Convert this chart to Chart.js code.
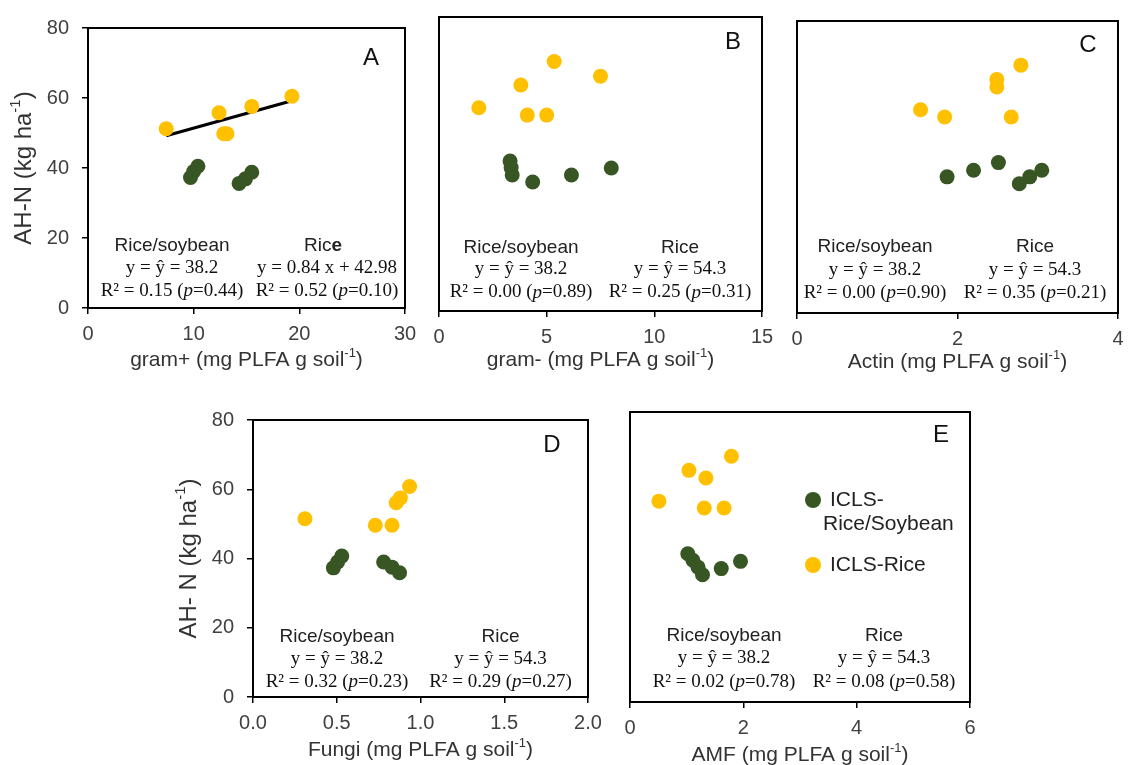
<!DOCTYPE html>
<html>
<head>
<meta charset="utf-8">
<script src="https://cdn.jsdelivr.net/npm/chart.js"></script>
<style>
  body { margin: 0; background: #fff; overflow: hidden; }
  #wrap { position: relative; width: 1128px; height: 765px; }
  #wrap canvas { position: absolute; }
</style>
</head>
<body>
<div id="wrap"></div>
<script>
// shared y axis
const yTicks = [0, 20, 40, 60, 80];

// A: gram+
const aTicks = [0, 10, 20, 30];
const aSoyX = [9.7, 10.0, 10.4, 14.3, 14.9, 15.5];
const aSoyY = [37.3, 39.0, 40.5, 35.6, 36.9, 38.8];
const aRiceX = [7.4, 12.4, 12.85, 13.15, 15.5, 19.3];
const aRiceY = [51.2, 55.8, 49.8, 49.8, 57.6, 60.5];
const aFitX = [7.4, 19.3];
const aFitY = [49.2, 59.2];
const aSoyStats = ["y = ŷ = 38.2", "0.15", "0.44"];
const aRiceStats = ["y = 0.84 x + 42.98", "0.52", "0.10"];

// B: gram-
const bTicks = [0, 5, 10, 15];
const bSoyX = [3.3, 3.35, 3.4, 4.35, 6.15, 8.0];
const bSoyY = [40.8, 39.0, 37.0, 35.1, 37.0, 38.9];
const bRiceX = [1.85, 3.8, 5.35, 7.5, 4.1, 5.0];
const bRiceY = [55.3, 61.5, 67.9, 63.9, 53.3, 53.3];
const bSoyStats = ["y = ŷ = 38.2", "0.00", "0.89"];
const bRiceStats = ["y = ŷ = 54.3", "0.25", "0.31"];

// C: Actin
const cTicks = [0, 2, 4];
const cSoyX = [1.87, 2.2, 2.51, 2.77, 2.9, 3.05];
const cSoyY = [37.3, 39.1, 41.2, 35.4, 37.3, 39.1];
const cRiceX = [1.54, 1.84, 2.49, 2.49, 2.79, 2.67];
const cRiceY = [55.7, 53.7, 64.0, 61.9, 67.9, 53.7];
const cSoyStats = ["y = ŷ = 38.2", "0.00", "0.90"];
const cRiceStats = ["y = ŷ = 54.3", "0.35", "0.21"];

// D: Fungi
const dTicks = [0, 0.5, 1.0, 1.5, 2.0];
const dSoyX = [0.48, 0.505, 0.53, 0.78, 0.83, 0.875];
const dSoyY = [37.3, 39.0, 40.7, 39.0, 37.5, 35.9];
const dRiceX = [0.31, 0.73, 0.83, 0.855, 0.88, 0.935];
const dRiceY = [51.5, 49.6, 49.6, 56.1, 57.5, 60.8];
const dSoyStats = ["y = ŷ = 38.2", "0.32", "0.23"];
const dRiceStats = ["y = ŷ = 54.3", "0.29", "0.27"];

// E: AMF
const eTicks = [0, 2, 4, 6];
const eSoyX = [1.02, 1.11, 1.2, 1.28, 1.61, 1.95];
const eSoyY = [40.9, 39.1, 37.2, 35.1, 36.8, 38.8];
const eRiceX = [0.51, 1.04, 1.34, 1.79, 1.31, 1.66];
const eRiceY = [55.4, 63.9, 61.8, 67.8, 53.5, 53.5];
const eSoyStats = ["y = ŷ = 38.2", "0.02", "0.78"];
const eRiceStats = ["y = ŷ = 54.3", "0.08", "0.58"];

const GREEN = "#375623";
const YELLOW = "#FFC000";
const SANS = "'Liberation Sans', Arial, sans-serif";
const SERIF = "'Liberation Serif', 'Times New Roman', serif";

// text with "|sup|" parts
function supSegs(str, size, color) {
  return str.split("|").map((t, i) => ({
    t: t,
    font: (i % 2 ? Math.round(size * 0.62) : size) + "px " + SANS,
    dy: i % 2 ? -size * 0.33 : 0,
    color: color,
  }));
}

function statSegs(stats) {
  const f = "19px " + SERIF;
  return [
    [{ t: stats[0], font: f }],
    [
      { t: "R² = " + stats[1] + " (", font: f },
      { t: "p", font: "italic " + f },
      { t: "=" + stats[2] + ")", font: f },
    ],
  ];
}

function drawSegs(ctx, segs, x, y, align) {
  let total = 0;
  segs.forEach((s) => {
    ctx.font = s.font;
    s.w = ctx.measureText(s.t).width;
    total += s.w;
  });
  let cx = align === "left" ? x : x - total / 2;
  ctx.textAlign = "left";
  ctx.textBaseline = "middle";
  segs.forEach((s) => {
    ctx.font = s.font;
    ctx.fillStyle = s.color || "#111";
    ctx.fillText(s.t, cx, y + (s.dy || 0));
    cx += s.w;
  });
}

const decor = {
  id: "decor",
  afterDraw(chart) {
    const p = chart.options.plugins.decor;
    const ctx = chart.ctx;
    const a = chart.chartArea;
    ctx.save();
    ctx.strokeStyle = "#000";
    ctx.lineWidth = 2;
    ctx.strokeRect(a.left, a.top, a.right - a.left, a.bottom - a.top);

    // panel letter
    ctx.font = "24px " + SANS;
    ctx.fillStyle = "#111";
    ctx.textAlign = "center";
    ctx.textBaseline = "middle";
    ctx.fillText(p.letter, a.right - p.letterPos[0], a.top + p.letterPos[1]);

    // stats notes
    const sansF = "19px " + SANS;
    const lx = a.left + p.cols[0];
    const rx = a.left + p.cols[1];
    const ys = p.rows.map((d) => a.bottom - d);
    drawSegs(ctx, [{ t: "Rice/soybean", font: sansF, color: "#222" }], lx, ys[0]);
    drawSegs(ctx, p.riceHead.map((s) => Object.assign({ color: "#222" }, s)), rx, ys[0]);
    const sl = statSegs(p.soyStats);
    const rl = statSegs(p.riceStats);
    drawSegs(ctx, sl[0], lx, ys[1]);
    drawSegs(ctx, sl[1], lx, ys[2]);
    drawSegs(ctx, rl[0], rx + p.eqShift, ys[1]);
    drawSegs(ctx, rl[1], rx + p.eqShift, ys[2]);

    // x title
    drawSegs(ctx, supSegs(p.xTitle, 21, "#333"), (a.left + a.right) / 2, a.bottom + p.xTitleY);

    // y title
    if (p.yTitle) {
      ctx.save();
      ctx.translate(a.left - 64, (a.top + a.bottom) / 2);
      ctx.rotate(-Math.PI / 2);
      drawSegs(ctx, supSegs(p.yTitle, 24, "#333"), 0, 0);
      ctx.restore();
    }

    // legend (panel E)
    if (p.legend) {
      const ds = chart.data.datasets;
      const lf = "21px " + SANS;
      ctx.fillStyle = ds[0].backgroundColor;
      ctx.beginPath();
      ctx.arc(a.left + 183, a.top + 88, 8, 0, Math.PI * 2);
      ctx.fill();
      ctx.fillStyle = ds[1].backgroundColor;
      ctx.beginPath();
      ctx.arc(a.left + 183, a.top + 153, 8, 0, Math.PI * 2);
      ctx.fill();
      drawSegs(ctx, [{ t: "ICLS-", font: lf, color: "#222" }], a.left + 200, a.top + 88, "left");
      drawSegs(ctx, [{ t: "Rice/Soybean", font: lf, color: "#222" }], a.left + 193, a.top + 112, "left");
      drawSegs(ctx, [{ t: "ICLS-Rice", font: lf, color: "#222" }], a.left + 200, a.top + 153, "left");
    }
    ctx.restore();
  },
};

function pts(xs, ys) {
  return xs.map((x, i) => ({ x: x, y: ys[i] }));
}

const plainRice = [{ t: "Rice", font: "19px " + SANS }];

const panels = [
  {
    letter: "A", box: [88, 18, 405, 308], xTicks: aTicks, dec: 0, yLabels: true,
    soyX: aSoyX, soyY: aSoyY, riceX: aRiceX, riceY: aRiceY, fitX: aFitX, fitY: aFitY,
    soyStats: aSoyStats, riceStats: aRiceStats,
    riceHead: [{ t: "Ric", font: "19px " + SANS }, { t: "e", font: "bold 19px " + SANS }],
    cols: [84, 235], eqShift: 4, rows: [62, 40, 17], letterPos: [34, 30], xTitleY: 52,
    xTitle: "gram+ (mg PLFA g soil|-1|)", yTitle: "AH-N (kg ha|-1|)",
  },
  {
    letter: "B", box: [439, 17, 762, 311], xTicks: bTicks, dec: 0, yLabels: false,
    soyX: bSoyX, soyY: bSoyY, riceX: bRiceX, riceY: bRiceY,
    soyStats: bSoyStats, riceStats: bRiceStats, riceHead: plainRice,
    cols: [82, 241], eqShift: 0, rows: [63, 41.5, 18.5], letterPos: [29, 25], xTitleY: 49,
    xTitle: "gram- (mg PLFA g soil|-1|)",
  },
  {
    letter: "C", box: [797, 21, 1118, 313], xTicks: cTicks, dec: 0, yLabels: false,
    soyX: cSoyX, soyY: cSoyY, riceX: cRiceX, riceY: cRiceY,
    soyStats: cSoyStats, riceStats: cRiceStats, riceHead: plainRice,
    cols: [78, 238], eqShift: 0, rows: [66, 43, 20], letterPos: [30, 24], xTitleY: 49,
    xTitle: "Actin (mg PLFA g soil|-1|)",
  },
  {
    letter: "D", box: [253, 410, 588, 697], xTicks: dTicks, dec: 1, yLabels: true,
    soyX: dSoyX, soyY: dSoyY, riceX: dRiceX, riceY: dRiceY,
    soyStats: dSoyStats, riceStats: dRiceStats, riceHead: plainRice,
    cols: [84, 247.5], eqShift: 0, rows: [60, 37.5, 15], letterPos: [36, 25], xTitleY: 53,
    xTitle: "Fungi (mg PLFA g soil|-1|)", yTitle: "AH- N (kg ha|-1|)",
  },
  {
    letter: "E", box: [630, 412, 970, 702], xTicks: eTicks, dec: 0, yLabels: false, legend: true,
    soyX: eSoyX, soyY: eSoyY, riceX: eRiceX, riceY: eRiceY,
    soyStats: eSoyStats, riceStats: eRiceStats, riceHead: plainRice,
    cols: [94, 254], eqShift: 0, rows: [66, 43.5, 20], letterPos: [29, 23], xTitleY: 53,
    xTitle: "AMF (mg PLFA g soil|-1|)",
  },
];

const wrap = document.getElementById("wrap");

panels.forEach((p) => {
  const [l, t, r, b] = p.box;
  const padL = 95, padT = 15, padR = 24, padB = 70;
  const w = r - l + padL + padR;
  const h = b - t + padT + padB;
  const canvas = document.createElement("canvas");
  canvas.width = w;
  canvas.height = h;
  canvas.style.left = l - padL + "px";
  canvas.style.top = t - padT + "px";
  canvas.style.width = w + "px";
  canvas.style.height = h + "px";
  wrap.appendChild(canvas);

  const datasets = [
    {
      label: "ICLS-Rice/Soybean",
      data: pts(p.soyX, p.soyY),
      backgroundColor: GREEN,
      borderWidth: 0,
      pointRadius: 7.5,
    },
    {
      label: "ICLS-Rice",
      data: pts(p.riceX, p.riceY),
      backgroundColor: YELLOW,
      borderWidth: 0,
      pointRadius: 7.5,
    },
  ];
  if (p.fitX) {
    datasets.push({
      type: "line",
      label: "fit",
      data: pts(p.fitX, p.fitY),
      borderColor: "#000",
      borderWidth: 3,
      pointRadius: 0,
      showLine: true,
      fill: false,
    });
  }

  const tickFont = { family: SANS, size: 20 };
  const tickLine = {
    display: true,
    drawOnChartArea: false,
    drawTicks: true,
    tickLength: 6,
    color: "#000",
    lineWidth: 1.5,
  };

  new Chart(canvas.getContext("2d"), {
    type: "scatter",
    data: { datasets: datasets },
    options: {
      responsive: false,
      animation: false,
      layout: { padding: { left: 0, top: padT, right: padR, bottom: 0 } },
      plugins: {
        legend: { display: false },
        tooltip: { enabled: false },
        decor: p,
      },
      scales: {
        x: {
          type: "linear",
          min: p.xTicks[0],
          max: p.xTicks[p.xTicks.length - 1],
          afterFit: (s) => { s.height = padB; },
          afterBuildTicks: (s) => { s.ticks = p.xTicks.map((v) => ({ value: v })); },
          ticks: {
            font: tickFont,
            color: "#404040",
            padding: 8,
            maxRotation: 0,
            callback: (v) => Number(v).toFixed(p.dec),
          },
          grid: tickLine,
          border: { display: true, color: "#000", width: 2 },
        },
        y: {
          min: yTicks[0],
          max: yTicks[yTicks.length - 1],
          afterFit: (s) => { s.width = padL; },
          afterBuildTicks: (s) => { s.ticks = yTicks.map((v) => ({ value: v })); },
          ticks: {
            display: p.yLabels,
            font: tickFont,
            color: "#404040",
            padding: 13,
          },
          grid: p.yLabels ? tickLine : { display: false },
          border: { display: true, color: "#000", width: 2 },
        },
      },
    },
    plugins: [decor],
  });
});
</script>
</body>
</html>
